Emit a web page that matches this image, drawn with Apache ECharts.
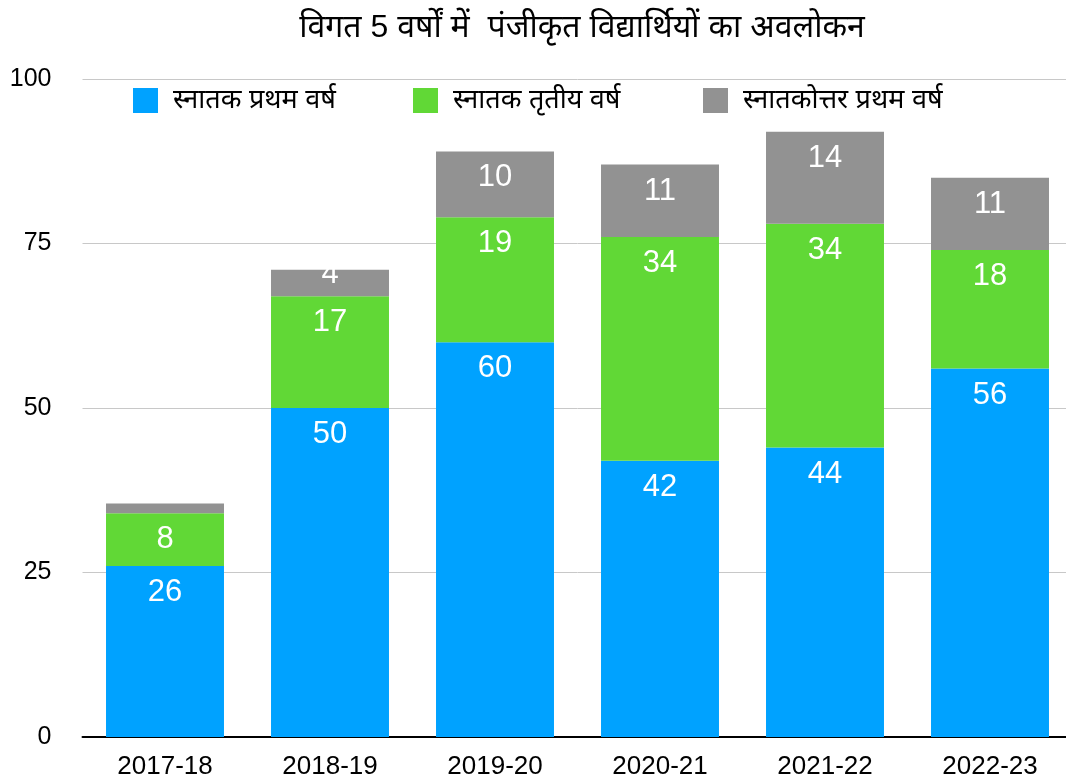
<!DOCTYPE html>
<html>
<head>
<meta charset="utf-8">
<script src="https://cdn.jsdelivr.net/npm/echarts@6/dist/echarts.min.js"></script>
<style>
  html, body { margin: 0; padding: 0; background: #fff; overflow: hidden; }
  #chart { width: 1076px; height: 783px; }
</style>
</head>
<body>
<div id="chart"></div>
<script>
// सत्र
const years = ['2017-18', '2018-19', '2019-20', '2020-21', '2021-22', '2022-23']
const seriesNames = ['स्नातक प्रथम वर्ष', 'स्नातक तृतीय वर्ष', 'स्नातकोत्तर प्रथम वर्ष']
const ugFirst = [26, 50, 60, 42, 44, 56]
const ugThird = [8, 17, 19, 34, 34, 18]
const pgFirst = [1.5, 4, 10, 11, 14, 11]
const yTicks = [0, 25, 50, 75, 100]

const colors = ['#00A2FF', '#61D836', '#929292']
const font = "'Liberation Sans', Arial, 'Noto Sans', sans-serif"

let labelStyle = {
  show: true,
  position: 'insideTop',
  distance: 11,
  color: '#fff',
  fontSize: 31,
  fontFamily: font,
  formatter: p => (p.value < 3 ? '' : p.value)
}

// छोटे खंड का लेबल ऊपर खिसकता है (सफ़ेद पर सफ़ेद, कटा हुआ दिखता है)
let toItems = data => data.map(v => (v >= 3 && v < 6)
  ? { value: v, label: { offset: [0, -22] } }
  : v)

let legendPos = [133, 413, 703]

let option = {
  animation: false,
  color: colors,
  title: {
    text: 'विगत 5 वर्षों में  पंजीकृत विद्यार्थियों का अवलोकन',
    left: 577,
    top: 7,
    textAlign: 'center',
    textStyle: {
      fontSize: 32,
      fontWeight: 'normal',
      color: '#000',
      fontFamily: font
    }
  },
  legend: seriesNames.map((name, i) => ({
    data: [name],
    left: legendPos[i],
    top: 87,
    padding: 0,
    itemWidth: 25,
    itemHeight: 25,
    itemGap: 0,
    icon: 'rect',
    textStyle: {
      fontSize: 27,
      color: '#000',
      fontFamily: font,
      padding: [0, 0, 0, 10]
    }
  })),
  grid: {
    left: 82.5,
    width: 990,
    top: 79,
    bottom: 46
  },
  xAxis: {
    type: 'category',
    data: years,
    axisLine: { lineStyle: { color: '#000', width: 2 } },
    axisTick: { show: false },
    axisLabel: {
      fontSize: 26,
      color: '#000',
      fontFamily: font,
      margin: 17
    }
  },
  yAxis: {
    type: 'value',
    min: yTicks[0],
    max: yTicks[yTicks.length - 1],
    interval: 25,
    axisLine: { show: false },
    axisTick: { show: false },
    splitLine: { lineStyle: { color: '#c8c8c8', width: 1 } },
    axisLabel: {
      fontSize: 25,
      color: '#000',
      fontFamily: font,
      margin: 31
    }
  },
  series: [ugFirst, ugThird, pgFirst].map((data, i) => ({
    name: seriesNames[i],
    type: 'bar',
    stack: 'total',
    barWidth: '71.5%',
    label: labelStyle,
    data: toItems(data)
  }))
}

let chart = echarts.init(document.getElementById('chart'))
chart.setOption(option)
</script>
</body>
</html>
